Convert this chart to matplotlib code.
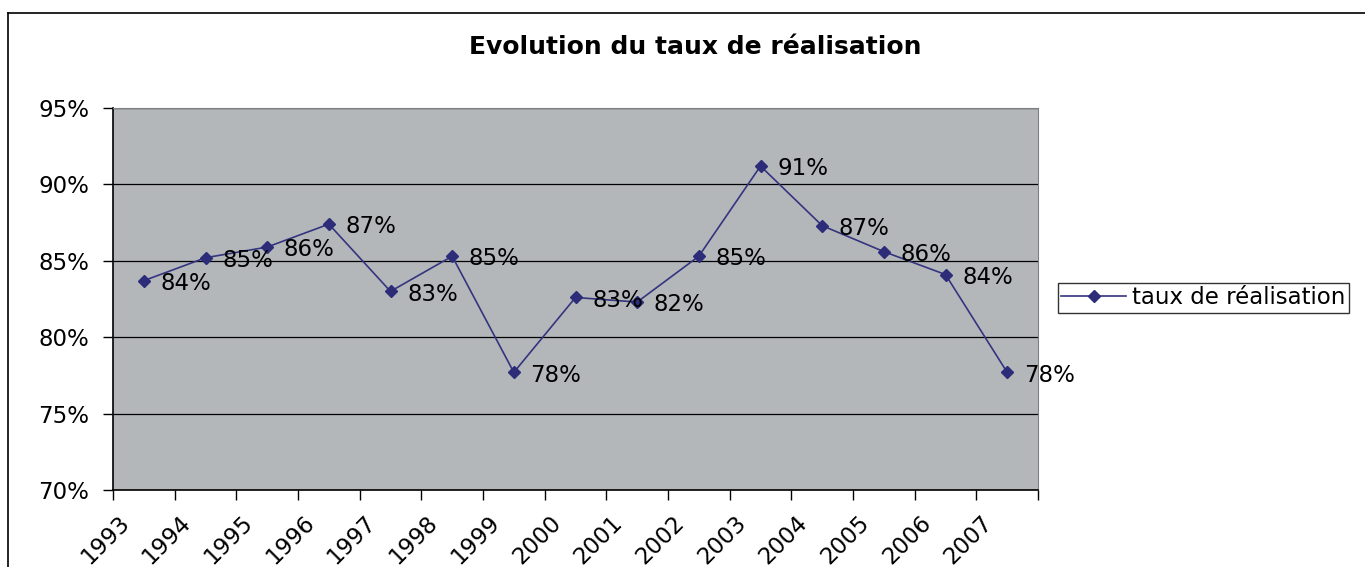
import numpy as np
import matplotlib.pyplot as plt
from matplotlib.ticker import FixedLocator, PercentFormatter

plt.rcParams['font.family'] = ['DejaVu Sans']

annees = ['1993', '1994', '1995', '1996', '1997', '1998', '1999', '2000',
          '2001', '2002', '2003', '2004', '2005', '2006', '2007']
taux = [83.7, 85.2, 85.9, 87.4, 83.0, 85.3, 77.7, 82.6,
        82.3, 85.3, 91.2, 87.3, 85.6, 84.1, 77.7]
etiquettes = ['84%', '85%', '86%', '87%', '83%', '85%', '78%', '83%',
              '82%', '85%', '91%', '87%', '86%', '84%', '78%']

fs = 16.5

fig = plt.figure(figsize=(13.65, 5.67), dpi=100)
ax = fig.add_axes([113/1365, 1-490/567, (1038-113)/1365, (490-108)/567])
ax.set_facecolor('#b4b7ba')

x = np.arange(len(annees))
ax.plot(x, taux, color='#34347f', lw=1.2, marker='D', ms=6.5,
        mfc='#2c2c78', mec='#2c2c78', label='taux de réalisation', zorder=3)
for xi, yi, t in zip(x, taux, etiquettes):
    ax.annotate(t, (xi, yi), xytext=(12, -2), textcoords='offset points',
                va='center', ha='left', fontsize=fs, zorder=4)

ax.set_xlim(-0.5, len(annees) - 0.5)
ax.set_ylim(70, 95)
ax.set_yticks(np.arange(70, 96, 5))
ax.yaxis.set_major_formatter(PercentFormatter(decimals=0))
ax.grid(axis='y', color='black', lw=0.9)
ax.set_axisbelow(True)

# étiquettes des années (inclinées, décalées comme dans Excel)
ax.set_xticks(x)
ax.set_xticklabels([])
for xi, an in zip(x, annees):
    ax.annotate(an, (xi, 0), xycoords=ax.get_xaxis_transform(),
                xytext=(-13, -21), textcoords='offset points', rotation=45,
                ha='right', va='center', rotation_mode='anchor', fontsize=fs)
ax.xaxis.set_minor_locator(FixedLocator(np.arange(-0.5, len(annees), 1)))
ax.tick_params(axis='x', which='major', length=0)
ax.tick_params(axis='x', which='minor', length=7, width=1)
ax.tick_params(axis='y', length=7, width=1, labelsize=fs, pad=10)

for s in ['left', 'bottom']:
    ax.spines[s].set_color('black')
    ax.spines[s].set_linewidth(1.2)
for s in ['top', 'right']:
    ax.spines[s].set_color('#808080')
    ax.spines[s].set_linewidth(0.8)

fig.text(695/1365, 1-47/567, 'Evolution du taux de réalisation',
         ha='center', va='center', fontsize=18, fontweight='bold')

leg = ax.legend(loc='center left', bbox_to_anchor=(1058/1365, 1-298/567),
                bbox_transform=fig.transFigure, fontsize=fs, frameon=True,
                fancybox=False, edgecolor='black', handlelength=2.8,
                borderpad=0.15, handletextpad=0.3, borderaxespad=0)
leg.get_frame().set_linewidth(1.0)

# cadre du graphique
fig.add_artist(plt.Line2D([8/1365, 8/1365], [0, 1-13/567], color='black',
                          lw=1.2, transform=fig.transFigure))
fig.add_artist(plt.Line2D([8/1365, 1], [1-13/567, 1-13/567], color='black',
                          lw=1.2, transform=fig.transFigure))

fig.savefig('out.png', dpi=100)
